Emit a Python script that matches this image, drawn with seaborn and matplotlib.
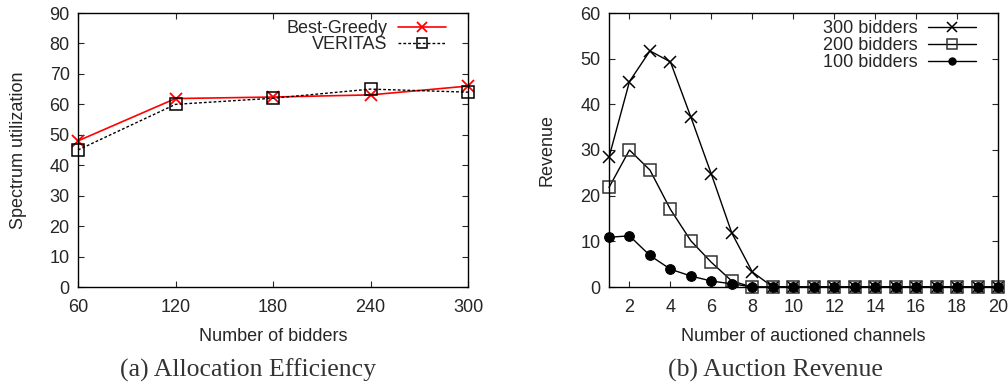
import matplotlib
matplotlib.use("Agg")
import matplotlib.pyplot as plt
import seaborn as sns

# Panel (a) data
bidders = [60, 120, 180, 240, 300]
best_greedy = [48.0, 61.9, 62.4, 63.1, 66.0]
veritas = [45.0, 60.0, 62.0, 65.0, 64.0]

# Panel (b) data
channels = list(range(1, 21))
rev_300 = [28.4, 45.0, 51.7, 49.3, 37.2, 24.7, 11.8, 3.3] + [0.0] * 12
rev_200 = [21.8, 30.0, 25.6, 17.0, 10.1, 5.4, 1.3] + [0.0] * 13
rev_100 = [10.9, 11.2, 6.9, 3.9, 2.4, 1.3, 0.7] + [0.0] * 13

sns.set_style("ticks")
plt.rcParams['font.family'] = ['Liberation Sans', 'DejaVu Sans']
plt.rcParams['xtick.direction'] = 'in'
plt.rcParams['ytick.direction'] = 'in'

fig = plt.figure(figsize=(10.08, 3.83), dpi=100)
ax1 = fig.add_axes([78/1008, 96/383, 390/1008, 274/383])
ax2 = fig.add_axes([609/1008, 96/383, 389/1008, 274/383])

fs = 13

# Panel (a)
sns.lineplot(x=bidders, y=best_greedy, ax=ax1, color='red', lw=1.2,
             marker='x', markersize=9, markeredgewidth=1.3, markeredgecolor='red',
             label='Best-Greedy')
sns.lineplot(x=bidders, y=veritas, ax=ax1, color='black', lw=1.0,
             linestyle=(0, (2, 1.5)), marker='s', markersize=9, markerfacecolor='none',
             markeredgecolor='black', markeredgewidth=1.1, label='VERITAS')
ax1.set_xlim(60, 300)
ax1.set_ylim(0, 90)
ax1.set_xticks(bidders)
ax1.set_yticks(range(0, 91, 10))
ax1.set_xlabel('Number of bidders', fontsize=fs, labelpad=8)
ax1.set_ylabel('Spectrum utilization', fontsize=fs, labelpad=16)
ax1.legend(loc='upper right', bbox_to_anchor=((446-78)/390, (287-20)/274),
           frameon=False, markerfirst=False, fontsize=fs, borderpad=0,
           handlelength=2.66, labelspacing=-0.05, borderaxespad=0,
           handletextpad=0.6, markerscale=0.8)

# Panel (b)
sns.lineplot(x=channels, y=rev_300, ax=ax2, color='black', lw=1.0,
             marker='x', markersize=9, markeredgewidth=1.1, markeredgecolor='black',
             label='300 bidders')
sns.lineplot(x=channels, y=rev_200, ax=ax2, color='black', lw=1.0,
             marker='s', markersize=9, markerfacecolor='none', markeredgecolor='#333333',
             markeredgewidth=1.1, label='200 bidders')
sns.lineplot(x=channels, y=rev_100, ax=ax2, color='black', lw=1.0,
             marker='o', markersize=7, markerfacecolor='black', markeredgecolor='black',
             label='100 bidders')
ax2.set_xlim(1, 20)
ax2.set_ylim(0, 60)
ax2.set_xticks(range(2, 21, 2))
ax2.set_yticks(range(0, 61, 10))
ax2.set_xlabel('Number of auctioned channels', fontsize=fs, labelpad=8)
ax2.set_ylabel('Revenue', fontsize=fs, labelpad=18)
ax2.legend(loc='upper right', bbox_to_anchor=((976-609)/389, (287-20)/274),
           frameon=False, markerfirst=False, fontsize=fs, borderpad=0,
           handlelength=2.66, labelspacing=0.0, borderaxespad=0,
           handletextpad=0.6, markerscale=0.75)

for ax in (ax1, ax2):
    for s in ax.spines.values():
        s.set_visible(True)
        s.set_linewidth(1.0)
        s.set_color('black')
    ax.tick_params(axis='both', which='both', direction='in', length=4, width=0.8,
                   top=True, right=True, labelsize=fs)
    ax.tick_params(axis='x', pad=9)
    ax.tick_params(axis='y', pad=6)
    for m in ax.lines:
        m.set_clip_on(False)

fig.text(248/1008, 1 - 370/383, '(a) Allocation Efficiency', ha='center', va='center',
         fontsize=18.5, family=['Liberation Serif', 'DejaVu Serif'], color='#333333')
fig.text(775/1008, 1 - 370/383, '(b) Auction Revenue', ha='center', va='center',
         fontsize=18.5, family=['Liberation Serif', 'DejaVu Serif'], color='#333333')

fig.savefig('out.png', dpi=100)
